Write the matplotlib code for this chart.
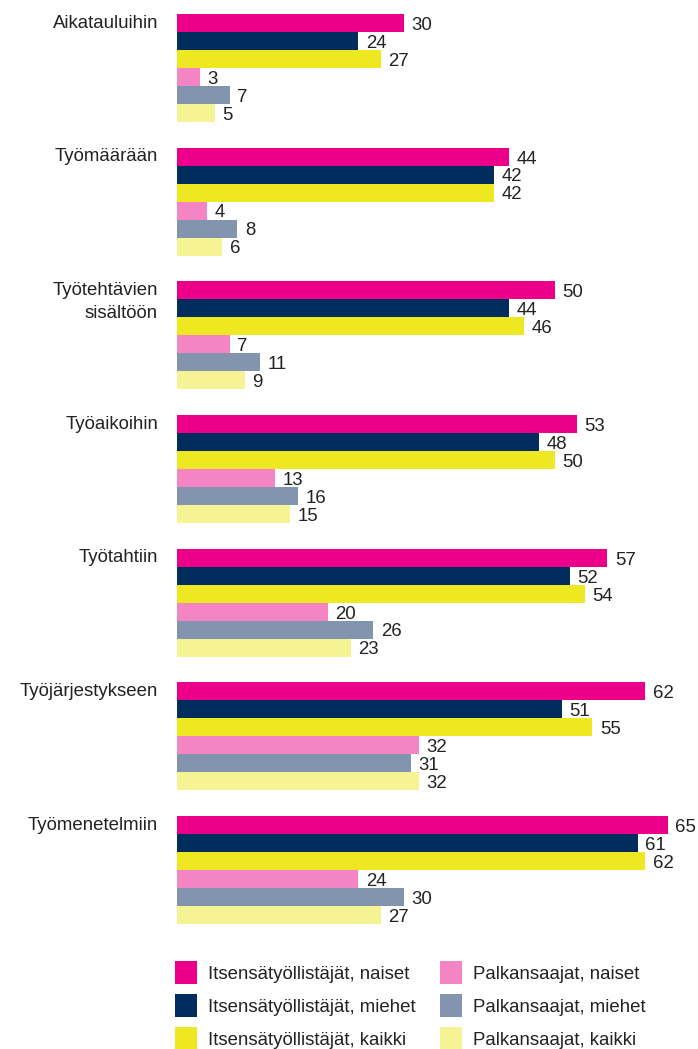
import numpy as np
import matplotlib
matplotlib.use('Agg')
import matplotlib.pyplot as plt
from matplotlib.patches import Rectangle

plt.rcParams['font.family'] = ['Liberation Sans', 'DejaVu Sans']

# ── Data ─────────────────────────────────────────────────────────────────────
categories = ['Aikatauluihin', 'Työmäärään', 'Työtehtävien\nsisältöön',
              'Työaikoihin', 'Työtahtiin', 'Työjärjestykseen', 'Työmenetelmiin']
series = ['Itsensätyöllistäjät, naiset', 'Itsensätyöllistäjät, miehet',
          'Itsensätyöllistäjät, kaikki', 'Palkansaajat, naiset',
          'Palkansaajat, miehet', 'Palkansaajat, kaikki']
itse_naiset = [30, 44, 50, 53, 57, 62, 65]
itse_miehet = [24, 42, 44, 48, 52, 51, 61]
itse_kaikki = [27, 42, 46, 50, 54, 55, 62]
palk_naiset = [3, 4, 7, 13, 20, 32, 24]
palk_miehet = [7, 8, 11, 16, 26, 31, 30]
palk_kaikki = [5, 6, 9, 15, 23, 32, 27]
values = [itse_naiset, itse_miehet, itse_kaikki, palk_naiset, palk_miehet, palk_kaikki]
colors = ['#EC008B', '#002D5E', '#EEE823', '#F584C5', '#8294AE', '#F5F394']

TXT = '#222222'
FS = 13.4

# ── Figure ───────────────────────────────────────────────────────────────────
W, H = 698, 1049
fig = plt.figure(figsize=(W / 100, H / 100), dpi=100)
ax = fig.add_axes([177 / W, 1 - 924 / H, (W - 177) / W, 910 / H])

stride = 7.43   # group pitch in bar heights
bar_h = 1.0
for g, cat in enumerate(categories):
    top = g * stride
    for s in range(len(series)):
        v = values[s][g]
        yc = top + s * bar_h + bar_h / 2
        ax.barh(yc, v, height=bar_h, color=colors[s], edgecolor='none')
        ax.text(v + 1.0, yc + 0.38, f'{v}', va='baseline', ha='left',
                fontsize=FS, color=TXT)
    for k, line in enumerate(cat.split('\n')):
        ax.text(-2.5, top + 0.76 + k * 1.3, line, va='baseline', ha='right',
                fontsize=FS, color=TXT)

ax.set_xlim(0, (W - 177) / 7.55)
ax.set_ylim((len(categories) - 1) * stride + 6 * bar_h, 0)
ax.axis('off')

# ── Legend ───────────────────────────────────────────────────────────────────
cols_x = [175, 440]
rows_y = [961, 994, 1027]
for i, (lab, c) in enumerate(zip(series, colors)):
    x0 = cols_x[i // 3]
    y0 = rows_y[i % 3]
    fig.add_artist(Rectangle((x0 / W, 1 - (y0 + 23) / H), 22 / W, 23 / H,
                             transform=fig.transFigure, color=c, lw=0))
    fig.text((x0 + 33) / W, 1 - (y0 + 18) / H, lab, va='baseline', ha='left',
             fontsize=FS, color=TXT)

fig.savefig('out.png', dpi=100)
